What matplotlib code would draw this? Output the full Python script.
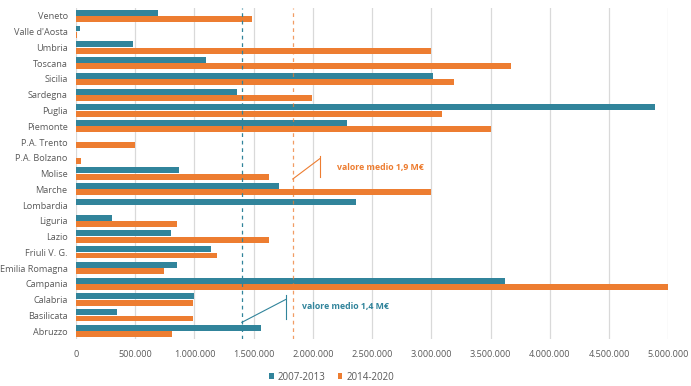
import numpy as np
import matplotlib.pyplot as plt
from matplotlib.ticker import FuncFormatter

# regions listed bottom to top (as drawn by barh)
regions = ['Abruzzo', 'Basilicata', 'Calabria', 'Campania', 'Emilia Romagna',
           'Friuli V. G.', 'Lazio', 'Liguria', 'Lombardia', 'Marche', 'Molise',
           'P.A. Bolzano', 'P.A. Trento', 'Piemonte', 'Puglia', 'Sardegna',
           'Sicilia', 'Toscana', 'Umbria', "Valle d'Aosta", 'Veneto']

p2007 = [1560000, 350000, 1000000, 3620000, 850000,
         1140000, 800000, 300000, 2360000, 1710000, 870000,
         0, 0, 2290000, 4890000, 1360000,
         3010000, 1100000, 480000, 30000, 690000]

p2014 = [810000, 990000, 990000, 5000000, 740000,
         1190000, 1630000, 850000, 0, 3000000, 1630000,
         40000, 500000, 3500000, 3090000, 1990000,
         3190000, 3670000, 3000000, 5000, 1490000]

mean_2007 = 1400000
mean_2014 = 1830000
lbl_2007 = 'valore medio 1,4 M€'
lbl_2014 = 'valore medio 1,9 M€'

TEAL = '#31849B'
ORANGE = '#ED7D31'
GREY = '#595959'

plt.rcParams['font.family'] = ['Open Sans', 'DejaVu Sans']

fig = plt.figure(figsize=(6.91, 3.86), dpi=100)
ax = fig.add_axes([0.110, 0.122, 0.857, 0.857])

y = np.arange(len(regions))
h = 0.37
ax.barh(y + 0.2, p2007, height=h, color=TEAL, label='2007-2013', zorder=3)
ax.barh(y - 0.2, p2014, height=h, color=ORANGE, label='2014-2020', zorder=3)

ax.set_xlim(0, 5000000)
ax.set_ylim(-0.5, len(regions) - 0.5)
ax.set_xticks(np.arange(0, 5000001, 500000))
ax.xaxis.set_major_formatter(FuncFormatter(lambda v, p: f'{int(v):,}'.replace(',', '.')))
ax.set_yticks(y)
ax.set_yticklabels(regions)
ax.tick_params(axis='both', length=0, labelsize=6.6, colors=GREY)
ax.tick_params(axis='x', pad=8)
ax.tick_params(axis='y', pad=6)
ax.grid(axis='x', color='#D9D9D9', linewidth=0.9, zorder=0)
for s in ax.spines.values():
    s.set_visible(False)

# mean lines
ax.axvline(mean_2007, color=TEAL, ls=(0, (3, 3)), lw=0.9, zorder=4)
ax.axvline(mean_2014, color=ORANGE, ls=(0, (3, 3)), lw=0.9, alpha=0.75, zorder=4)

# leader lines + labels
ax.plot([mean_2014, mean_2014 + 230000], [9.65, 10.95], color=ORANGE, lw=0.8, zorder=5)
ax.plot([mean_2014 + 230000] * 2, [9.75, 11.1], color=ORANGE, lw=0.8, zorder=5)
ax.text(mean_2014 + 370000, 10.35, lbl_2014, color=ORANGE, fontsize=6.3,
        fontweight='bold', va='center', ha='left')

ax.plot([mean_2007, mean_2007 + 370000], [0.55, 2.0], color=TEAL, lw=0.8, zorder=5)
ax.plot([mean_2007 + 370000] * 2, [0.75, 2.3], color=TEAL, lw=0.8, zorder=5)
ax.text(mean_2007 + 510000, 1.55, lbl_2007, color=TEAL, fontsize=6.3,
        fontweight='bold', va='center', ha='left')

leg = fig.legend(loc='lower center', bbox_to_anchor=(0.48, -0.014), ncol=2,
                 frameon=False, fontsize=7, handlelength=0.5, handleheight=0.5,
                 handletextpad=0.4, columnspacing=1.2)
for t in leg.get_texts():
    t.set_color(GREY)

fig.savefig('out.png', dpi=100)
